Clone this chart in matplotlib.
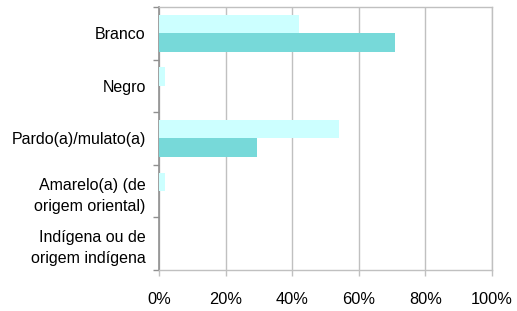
import matplotlib
matplotlib.use("Agg")
import matplotlib.pyplot as plt
import numpy as np

categories = ["Branco", "Negro", "Pardo(a)/mulato(a)",
              "Amarelo(a) (de\norigem oriental)", "Indígena ou de\norigem indígena"]
series_light = [42.0, 1.8, 54.0, 1.8, 0.0]
series_dark = [70.8, 0.0, 29.4, 0.0, 0.0]
xticks = [0, 20, 40, 60, 80, 100]
xtick_labels = ["0%", "20%", "40%", "60%", "80%", "100%"]

plt.rcParams['font.family'] = ['Liberation Sans', 'DejaVu Sans']

fig = plt.figure(figsize=(5.17, 3.11), dpi=100)
ax = fig.add_axes([159/517, 1-270/311, 333/517, 263/311])

n = len(categories)
y = np.arange(n)
h = 0.35
ax.barh(y - h/2, series_light, height=h, color="#CCFFFF", zorder=3)
ax.barh(y + h/2, series_dark, height=h, color="#77D9D9", zorder=3)

ax.set_ylim(n - 0.5, -0.5)
ax.set_xlim(0, 100)

ax.set_xticks(xticks)
ax.set_xticklabels(xtick_labels, fontsize=11.8, color="black")
ax.xaxis.grid(True, color="#C0C0C0", linewidth=1.0, zorder=0)

ax.set_yticks(y)
ax.set_yticklabels(categories, fontsize=11.5, color="black", multialignment="right",
                   linespacing=1.5)
ax.tick_params(axis='y', length=0, pad=9.5)
ax.set_yticks(np.arange(-0.5, n, 1.0), minor=True)
ax.tick_params(axis='y', which='minor', length=4, color="#909090", width=1)
ax.tick_params(axis='x', length=4, color="#C0C0C0", width=1, pad=11.5)

for s in ["top", "right", "bottom"]:
    ax.spines[s].set_color("#C0C0C0")
    ax.spines[s].set_linewidth(1.0)
ax.spines["left"].set_color("#909090")
ax.spines["left"].set_linewidth(1.2)

fig.savefig("out.png", dpi=100)
